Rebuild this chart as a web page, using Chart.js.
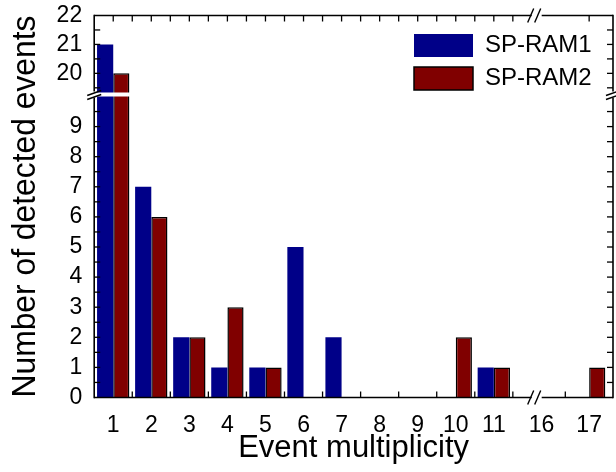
<!DOCTYPE html>
<html>
<head>
<meta charset="utf-8">
<script src="https://cdn.jsdelivr.net/npm/chart.js@4/dist/chart.umd.min.js"></script>
<style>
  html, body { margin: 0; padding: 0; background: #fff; }
  #wrap { width: 616px; height: 472px; }
</style>
</head>
<body>
<div id="wrap"><canvas id="c" width="616" height="472"></canvas></div>
<script>
// Event multiplicity histogram for the two SP-RAM devices
const multiplicity = [1, 2, 3, 4, 5, 6, 7, 8, 9, 10, 11, 16, 17];
const spRam1 = [21, 7, 2, 1, 1, 5, 2, 0, 0, 0, 1, 0, 0];
const spRam2 = [20, 6, 2, 3, 1, 0, 0, 0, 0, 2, 1, 0, 1];
const seriesNames = ['SP-RAM1', 'SP-RAM2'];
const seriesColors = ['#000088', '#800000'];

// labelled values on the broken count axis
const countTicks = [0, 1, 2, 3, 4, 5, 6, 7, 8, 9, 20, 21, 22];

const FONT = "'Liberation Sans', Arial, Helvetica, sans-serif";

// Pieces of each broken axis; weight is the share of the axis length
const axisBreaks = {
  x: [{ from: 0.5, to: 11.5, weight: 418 }, { from: 15.4, to: 17.5, weight: 100 }],
  y: [{ from: 0, to: 10, weight: 301 }, { from: 19.2, to: 22, weight: 81 }]
};

// Linear scale whose value range is split into separate pieces
class BrokenLinearScale extends Chart.LinearScale {
  getPixelForValue(value) {
    if (value === null || value === undefined || isNaN(value)) return NaN;
    const segs = axisBreaks[this.id];
    const total = segs.reduce((s, g) => s + g.weight, 0);
    let acc = 0;
    for (let i = 0; i < segs.length; i++) {
      const g = segs[i];
      const last = i === segs.length - 1;
      if (value <= g.to || last) {
        let t = (value - g.from) / (g.to - g.from);
        if (i > 0) t = Math.max(0, t);
        return this.getPixelForDecimal((acc + t * g.weight) / total);
      }
      acc += g.weight;
    }
    return NaN;
  }
  getValueForPixel(pixel) {
    const segs = axisBreaks[this.id];
    const total = segs.reduce((s, g) => s + g.weight, 0);
    const d = this.getDecimalForPixel(pixel) * total;
    let acc = 0;
    for (let i = 0; i < segs.length; i++) {
      const g = segs[i];
      if (d <= acc + g.weight || i === segs.length - 1) {
        return g.from + (d - acc) / g.weight * (g.to - g.from);
      }
      acc += g.weight;
    }
    return NaN;
  }
}
BrokenLinearScale.id = 'brokenLinear';
BrokenLinearScale.defaults = Chart.LinearScale.defaults;
Chart.register(BrokenLinearScale);

const datasets = [spRam1, spRam2].map((values, s) => ({
  label: seriesNames[s],
  data: multiplicity.map((m, i) => ({ x: m, y: values[i] })),
  backgroundColor: seriesColors[s],
  borderColor: '#000',
  borderWidth: s === 1 ? 1.5 : 0,
  categoryPercentage: 0.85,
  barPercentage: 1
}));

const useTicks = values => scale => {
  scale.ticks = values
    .filter(v => v >= scale.min && v <= scale.max)
    .map(v => ({ value: v }));
};

// Legend sits in the upper right corner of the plot
const legendPlace = {
  id: 'legendPlace',
  afterLayout(chart) {
    const lg = chart.legend;
    if (!lg) return;
    const a = chart.chartArea;
    lg.left = a.right - 208;
    lg.top = a.top + 9;
    lg.right = chart.width;
    lg.bottom = lg.top + 90;
    lg.width = lg.right - lg.left;
    lg.height = lg.bottom - lg.top;
  }
};

// Box frame with inward ticks and the break marks
const frame = {
  id: 'frame',
  afterDatasetsDraw(chart) {
    const { ctx, chartArea: a } = chart;
    const { x, y } = chart.scales;
    const yb = y.getPixelForValue(axisBreaks.y[1].from);   // junction of the value pieces
    const gapTop = yb - 4;
    const xb = x.getPixelForValue(15.9);
    const tick = 6;

    ctx.save();
    ctx.fillStyle = '#fff';
    ctx.fillRect(a.left, gapTop, a.right - a.left, yb - gapTop);

    ctx.strokeStyle = '#000';
    ctx.lineWidth = 1.6;
    ctx.lineCap = 'butt';
    const line = (x0, y0, x1, y1) => {
      ctx.beginPath(); ctx.moveTo(x0, y0); ctx.lineTo(x1, y1); ctx.stroke();
    };

    // vertical sides, interrupted at the value break
    [a.left, a.right].forEach(px => {
      line(px, a.top - 0.8, px, gapTop - 1);
      line(px, yb + 1, px, a.bottom + 0.8);
    });
    // horizontal sides, interrupted at the index break
    [a.top, a.bottom].forEach(py => {
      line(a.left, py, xb - 5, py);
      line(xb + 5, py, a.right, py);
    });

    ctx.lineWidth = 1.3;
    // value ticks every half unit on both sides
    const vTicks = (from, to) => {
      for (let v = from; v <= to + 1e-9; v += 0.5) {
        const py = y.getPixelForValue(v);
        line(a.left, py, a.left + tick, py);
        line(a.right, py, a.right - tick, py);
      }
    };
    vTicks(0.5, 9.5);
    vTicks(19.5, 21.5);

    // top ticks at bar centres and slot edges
    for (let v = 1; v <= 11.5; v += 0.5) {
      const px = x.getPixelForValue(v);
      line(px, a.top, px, a.top + tick);
    }
    const p17 = x.getPixelForValue(17);
    line(p17, a.top, p17, a.top + tick);

    // bottom ticks at slot edges
    for (let v = 1.5; v <= 11.5; v += 1) {
      const px = x.getPixelForValue(v);
      line(px, a.bottom, px, a.bottom - tick);
    }
    const p165 = x.getPixelForValue(16.5);
    line(p165, a.bottom, p165, a.bottom - tick);

    // break marks
    ctx.lineWidth = 1.4;
    [a.left, a.right].forEach(px => {
      line(px - 7, yb - 1, px + 7, yb - 6);
      line(px - 7, yb + 3, px + 7, yb - 2);
    });
    [a.top, a.bottom].forEach(py => {
      line(xb - 9, py + 7, xb - 3, py - 7);
      line(xb - 2, py + 7, xb + 4, py - 7);
    });
    ctx.restore();
  }
};

const tickFont = { family: FONT, size: 23 };
const hidden = { grid: { display: false, drawTicks: false }, border: { display: false } };

new Chart(document.getElementById('c'), {
  type: 'bar',
  data: { datasets },
  options: {
    responsive: false,
    animation: false,
    devicePixelRatio: 1,
    events: [],
    layout: { padding: { top: 15.5, right: 3, bottom: 5.3, left: 0 } },
    scales: {
      x: {
        ...hidden,
        type: 'brokenLinear', position: 'bottom', offset: false,
        min: 0.5, max: 17.5,
        afterBuildTicks: useTicks(multiplicity),
        afterFit: s => { s.height = 44; s.paddingLeft = 0; s.paddingRight = 0; },
        ticks: { autoSkip: false, maxRotation: 0, minRotation: 0, padding: 14, color: '#000', font: tickFont }
      },
      y: {
        ...hidden,
        type: 'brokenLinear', position: 'left',
        min: 0, max: 22,
        afterBuildTicks: useTicks(countTicks),
        afterFit: s => { s.width = 47.4; s.paddingTop = 0; s.paddingBottom = 0; },
        ticks: { autoSkip: false, padding: 12, color: '#000', font: tickFont }
      }
    },
    plugins: {
      tooltip: { enabled: false },
      legend: {
        position: 'chartArea',
        align: 'start',
        labels: {
          boxWidth: 59, boxHeight: 23, padding: 9, color: '#000',
          font: { family: FONT, size: 24 }
        }
      },
      title: {
        display: true, position: 'left', fullSize: false,
        text: 'Number of detected events', color: '#000',
        font: { family: FONT, size: 34, weight: 'normal' },
        padding: { top: 5, bottom: 1 }
      },
      subtitle: {
        display: true, position: 'bottom', fullSize: false,
        text: 'Event multiplicity', color: '#000',
        font: { family: FONT, size: 31, weight: 'normal' },
        padding: { top: -12, bottom: 0 }
      }
    }
  },
  plugins: [legendPlace, frame]
});
</script>
</body>
</html>
